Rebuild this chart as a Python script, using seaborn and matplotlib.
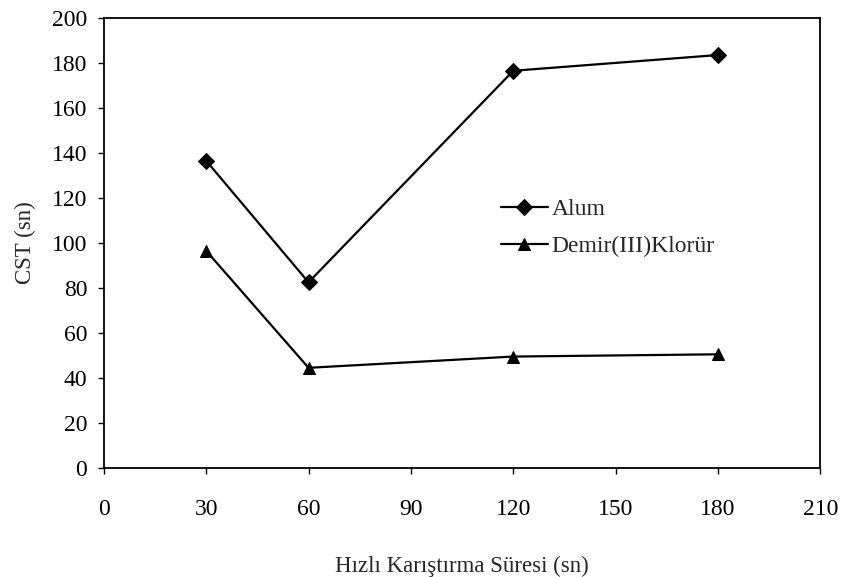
import matplotlib
matplotlib.use("Agg")
import matplotlib.pyplot as plt
import seaborn as sns
import pandas as pd

times = [30, 60, 120, 180]
alum = [136.5, 82.5, 176.5, 183.5]
demir = [96.5, 44.5, 49.5, 50.5]
series_names = ["Alum", "Demir(III)Klorür"]
x_ticks = [0, 30, 60, 90, 120, 150, 180, 210]
y_ticks = [0, 20, 40, 60, 80, 100, 120, 140, 160, 180, 200]

df = pd.DataFrame({
    "t": times * 2,
    "cst": alum + demir,
    "seri": [series_names[0]] * len(times) + [series_names[1]] * len(times),
})

sns.set_theme(style="ticks")
plt.rcParams["font.family"] = ["Liberation Serif", "DejaVu Serif"]

fig = plt.figure(figsize=(8.44, 5.77), dpi=100)
ax = fig.add_axes([0.123, 0.189, 0.849, 0.780])

sns.lineplot(data=df, x="t", y="cst", hue="seri", style="seri",
             markers={series_names[0]: "D", series_names[1]: "^"},
             dashes=False, palette=["black", "black"],
             markersize=8, linewidth=1.6, markeredgecolor="black",
             ax=ax, legend=True)

ax.set_xlim(0, 210)
ax.set_ylim(0, 200)
ax.set_xticks(x_ticks)
ax.set_yticks(y_ticks)
ax.tick_params(axis="both", labelsize=17, length=4, width=1, direction="out", colors="black")
ax.tick_params(axis="x", pad=18)
ax.tick_params(axis="y", pad=8)
for s in ax.spines.values():
    s.set_linewidth(1.3)
    s.set_color("black")
    s.set_visible(True)

ax.set_xlabel("Hızlı Karıştırma Süresi (sn)", fontsize=16.5, labelpad=26)
ax.set_ylabel("CST (sn)", fontsize=16.5, labelpad=11)

leg = ax.legend(loc="upper left", bbox_to_anchor=(0.582, 0.672), bbox_transform=fig.transFigure,
                frameon=False, fontsize=17, handlelength=2.0, handletextpad=0.15,
                labelspacing=0.65, borderaxespad=0)

fig.savefig("out.png", dpi=100)
